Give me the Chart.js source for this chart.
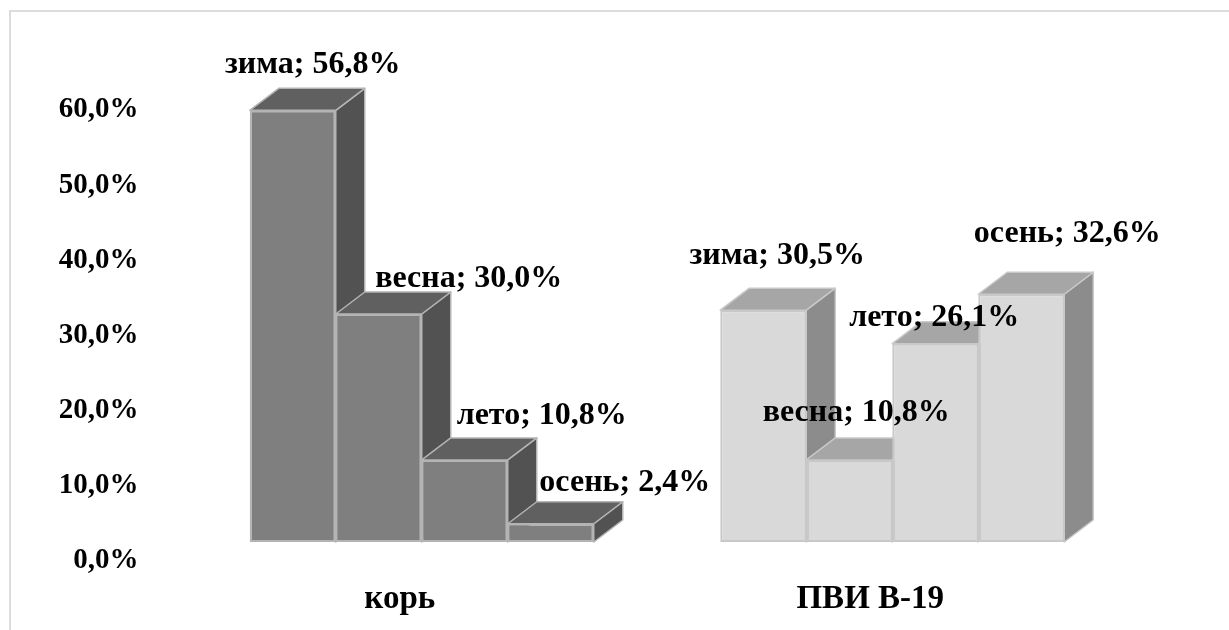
<!DOCTYPE html>
<html>
<head>
<meta charset="utf-8">
<script src="https://cdn.jsdelivr.net/npm/chart.js@4/dist/chart.umd.min.js"></script>
<style>
  html, body { margin: 0; padding: 0; background: #fff; overflow: hidden; }
  #wrap { position: relative; width: 1229px; height: 630px; }
  #frame { position: absolute; left: 9px; top: 10px; width: 1300px; height: 700px; border: 2px solid #dcdcdc; }
  canvas { position: absolute; left: 0; top: 0; }
</style>
</head>
<body>
<div id="wrap">
  <div id="frame"></div>
  <canvas id="seasonChart" width="1229" height="630"></canvas>
</div>
<script>
const infections = ["корь", "ПВИ В-19"];
const seasons = ["зима", "весна", "лето", "осень"];
const winter = [56.8, 30.5];
const spring = [30.0, 10.8];
const summer = [10.8, 26.1];
const autumn = [2.4, 32.6];
const yTicks = [0, 10, 20, 30, 40, 50, 60];

const frontColors = ["#7f7f7f", "#d9d9d9"];
const topColors = ["#606060", "#a6a6a6"];
const sideColors = ["#525252", "#8c8c8c"];
const edgeColors = ["#b4b4b4", "#c8c8c8"];

// labels were pulled off the bars by hand, offsets per dataset and group from bar centre / top
const labelShift = [
  [[20, -46], [14, -54]],
  [[90, -35], [7, -47]],
  [[77, -44], [-1, -26]],
  [[74, -41], [46, -60]]
];

const FONT = '"Liberation Serif", "Times New Roman", serif';
const DEPTH_X = 29;
const DEPTH_Y = 22;

const fmt = (v) => v.toFixed(1).replace(".", ",") + "%";

function face(ctx, pts, fill, stroke) {
  ctx.beginPath();
  pts.forEach((p, i) => (i ? ctx.lineTo(p[0], p[1]) : ctx.moveTo(p[0], p[1])));
  ctx.closePath();
  ctx.fillStyle = fill;
  ctx.fill();
  ctx.strokeStyle = stroke;
  ctx.lineWidth = 1.5;
  ctx.stroke();
}

// side and top faces go under the bars, left to right
const boxFaces = {
  id: "boxFaces",
  beforeDatasetsDraw(chart) {
    const ctx = chart.ctx;
    ctx.save();
    ctx.lineJoin = "round";
    infections.forEach((_, g) => {
      seasons.forEach((_, d) => {
        const b = chart.getDatasetMeta(d).data[g];
        const l = b.x - b.width / 2;
        const r = b.x + b.width / 2;
        face(ctx, [[r, b.y], [r + DEPTH_X, b.y - DEPTH_Y], [r + DEPTH_X, b.base - DEPTH_Y], [r, b.base]], sideColors[g], edgeColors[g]);
        face(ctx, [[l, b.y], [l + DEPTH_X, b.y - DEPTH_Y], [r + DEPTH_X, b.y - DEPTH_Y], [r, b.y]], topColors[g], edgeColors[g]);
      });
    });
    ctx.restore();
  }
};

const valueLabels = {
  id: "valueLabels",
  afterDatasetsDraw(chart) {
    const ctx = chart.ctx;
    ctx.save();
    ctx.font = "bold 32px " + FONT;
    ctx.fillStyle = "#000";
    ctx.textAlign = "center";
    ctx.textBaseline = "middle";
    chart.data.datasets.forEach((ds, d) => {
      ds.data.forEach((v, g) => {
        const b = chart.getDatasetMeta(d).data[g];
        const s = labelShift[d][g];
        ctx.fillText(ds.label + "; " + fmt(v), b.x + s[0], b.y + s[1]);
      });
    });
    ctx.restore();
  }
};

const seriesValues = [winter, spring, summer, autumn];

new Chart(document.getElementById("seasonChart"), {
  type: "bar",
  data: {
    labels: infections,
    datasets: seasons.map((name, i) => ({
      label: name,
      data: seriesValues[i],
      yAxisID: "y",
      backgroundColor: frontColors,
      borderColor: edgeColors,
      borderWidth: 2,
      borderSkipped: false,
      barPercentage: 1,
      categoryPercentage: 344 / 470.5
    }))
  },
  options: {
    responsive: false,
    animation: false,
    layout: { padding: { left: 0, right: 101.5, top: 110, bottom: 0 } },
    plugins: { legend: { display: false }, tooltip: { enabled: false } },
    scales: {
      x: {
        grid: { display: false },
        border: { display: false },
        afterFit(axis) { axis.height = 69; },
        ticks: {
          color: "#000",
          font: { family: FONT, size: 33, weight: "bold" },
          padding: 11,
          labelOffset: -22,
          maxRotation: 0
        }
      },
      // the bars run on their own hidden scale, set lower than the tick labels
      y: {
        display: false,
        min: -2.5,
        max: 56.84
      },
      yLabels: {
        position: "left",
        min: 0,
        max: 60,
        grid: { display: false },
        border: { display: false },
        afterBuildTicks(axis) { axis.ticks = yTicks.map((v) => ({ value: v })); },
        afterFit(axis) { axis.width = 186.5; },
        ticks: {
          color: "#000",
          font: { family: FONT, size: 29, weight: "bold" },
          padding: 40,
          callback: (v) => fmt(v)
        }
      }
    }
  },
  plugins: [boxFaces, valueLabels]
});
</script>
</body>
</html>
